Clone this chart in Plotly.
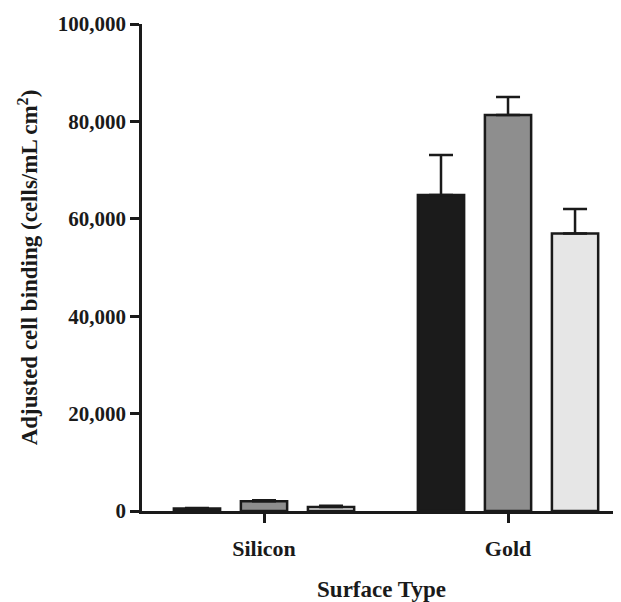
import plotly.graph_objects as go

categories = ["Silicon", "Gold"]
series_names = ["Group 1", "Group 2", "Group 3"]
series_values = [
    [500, 64900],
    [2000, 81300],
    [800, 57000],
]
series_errors = [
    [100, 8200],
    [200, 3700],
    [300, 5000],
]
series_colors = ["#1b1b1b", "#8e8e8e", "#e6e6e6"]
y_tick_values = [0, 20000, 40000, 60000, 80000, 100000]
y_tick_labels = ["0", "20,000", "40,000", "60,000", "80,000", "100,000"]

fig = go.Figure()
for name, vals, errs, col in zip(series_names, series_values, series_errors, series_colors):
    fig.add_trace(go.Bar(
        x=categories, y=vals, name=name,
        marker=dict(color=col, line=dict(color="#1a1a1a", width=2.5)),
        error_y=dict(type="data", array=errs, symmetric=False, arrayminus=[0, 0],
                     color="#1a1a1a", thickness=2.5, width=12),
    ))

font_family = "Liberation Serif"
fig.update_layout(
    width=613, height=594,
    margin=dict(l=134, r=0, t=16, b=91),
    paper_bgcolor="white", plot_bgcolor="white",
    barmode="group", bargap=0.176, bargroupgap=0.31,
    showlegend=False,
    font=dict(family=font_family, color="#1a1a1a"),
    xaxis=dict(
        range=[-0.5, 1.463], showline=True, linecolor="#1a1a1a", linewidth=2.5,
        ticks="outside", ticklen=9, tickwidth=2.5, tickcolor="#1a1a1a",
        ticklabelstandoff=7,
        tickfont=dict(family=font_family, size=22, color="#1a1a1a", weight="bold"),
        title=dict(text="<b>Surface Type</b>", font=dict(family=font_family, size=23), standoff=26),
        showgrid=False, zeroline=False, automargin=False,
    ),
    yaxis=dict(
        range=[0, 100000], showline=True, linecolor="#1a1a1a", linewidth=2.5,
        ticks="outside", ticklen=9, tickwidth=2.5, tickcolor="#1a1a1a",
        tickvals=y_tick_values, ticktext=y_tick_labels,
        tickfont=dict(family=font_family, size=21, color="#1a1a1a", weight="bold"),
        title=dict(text="<b>Adjusted cell binding (cells/mL cm<sup>2</sup>)</b>",
                   font=dict(family=font_family, size=23), standoff=14),
        showgrid=False, zeroline=False, automargin=False,
    ),
)
fig.write_html("out.html")
